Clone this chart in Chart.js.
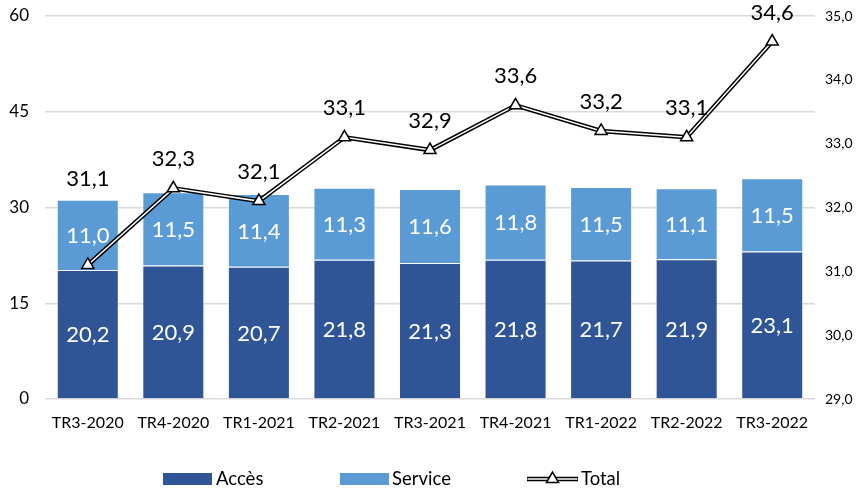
<!DOCTYPE html>
<html><head><meta charset="utf-8">
<script src="https://cdn.jsdelivr.net/npm/chart.js@4.4.1/dist/chart.umd.min.js"></script>
<style>html,body{margin:0;padding:0;background:#fff}#wrap{width:862px;height:488px}</style>
</head><body><div id="wrap"><canvas id="c" width="862" height="488"></canvas></div>
<script>
const categories = ['TR3-2020','TR4-2020','TR1-2021','TR2-2021','TR3-2021','TR4-2021','TR1-2022','TR2-2022','TR3-2022'];
const acces   = [20.2, 20.9, 20.7, 21.8, 21.3, 21.8, 21.7, 21.9, 23.1];
const service = [11.0, 11.5, 11.4, 11.3, 11.6, 11.8, 11.5, 11.1, 11.5];
const total   = [31.1, 32.3, 32.1, 33.1, 32.9, 33.6, 33.2, 33.1, 34.6];
const leftTicks  = [0, 15, 30, 45, 60];
const rightTicks = [29, 30, 31, 32, 33, 34, 35];
const seriesNames = ['Accès', 'Service', 'Total'];

const DARK = '#2F5597', LIGHT = '#5B9BD5';
const FONT = 'Lato, Carlito, "Noto Sans", sans-serif';
const fmt = v => v.toFixed(1).replace('.', ',');

const labelPlugin = {
  id: 'valueLabels',
  afterDatasetsDraw(chart) {
    const ctx = chart.ctx;
    ctx.save();
    ctx.textAlign = 'center';
    ctx.textBaseline = 'middle';
    ctx.font = '22px ' + FONT;
    [0, 1].forEach(di => {
      const meta = chart.getDatasetMeta(di);
      const data = chart.data.datasets[di].data;
      meta.data.forEach((el, i) => {
        ctx.fillStyle = '#FFFFFF';
        ctx.fillText(fmt(data[i]), el.x, (el.y + el.base) / 2 + 1);
      });
    });
    const lm = chart.getDatasetMeta(3);
    const ys = chart.scales.y;
    lm.data.forEach((el, i) => {
      const barTop = ys.getPixelForValue(acces[i] + service[i]);
      const y = Math.min(el.y - 29, barTop - 21);
      ctx.fillStyle = '#000000';
      ctx.fillText(fmt(total[i]), el.x, y);
    });
    ctx.restore();
  }
};

const legendPlugin = {
  id: 'customLegend',
  afterDraw(chart) {
    const ctx = chart.ctx;
    const cy = 479;
    ctx.save();
    ctx.font = '18.5px ' + FONT;
    ctx.textBaseline = 'middle';
    ctx.textAlign = 'left';
    ctx.fillStyle = DARK; ctx.fillRect(163, cy - 6, 49, 12);
    ctx.fillStyle = '#000'; ctx.fillText(seriesNames[0], 216, cy);
    ctx.fillStyle = LIGHT; ctx.fillRect(340, cy - 6, 49, 12);
    ctx.fillStyle = '#000'; ctx.fillText(seriesNames[1], 392, cy);
    ctx.lineCap = 'butt';
    ctx.strokeStyle = '#000'; ctx.lineWidth = 4.5;
    ctx.beginPath(); ctx.moveTo(527, cy); ctx.lineTo(578, cy); ctx.stroke();
    ctx.strokeStyle = '#fff'; ctx.lineWidth = 1.5;
    ctx.beginPath(); ctx.moveTo(527.5, cy); ctx.lineTo(577.5, cy); ctx.stroke();
    const r = 7, tx = 552.5;
    ctx.beginPath();
    ctx.moveTo(tx, cy - r);
    ctx.lineTo(tx + r * 0.866, cy + r * 0.5);
    ctx.lineTo(tx - r * 0.866, cy + r * 0.5);
    ctx.closePath();
    ctx.fillStyle = '#fff'; ctx.fill();
    ctx.strokeStyle = '#000'; ctx.lineWidth = 1.5; ctx.stroke();
    ctx.fillStyle = '#000'; ctx.fillText(seriesNames[2], 581, cy);
    ctx.restore();
  }
};

new Chart(document.getElementById('c'), {
  data: {
    labels: categories,
    datasets: [
      { type: 'bar', label: seriesNames[0], data: acces, backgroundColor: DARK, borderColor: 'rgba(255,255,255,0.35)', borderWidth: 1, yAxisID: 'y', stack: 's', order: 3, barPercentage: 0.725, categoryPercentage: 1 },
      { type: 'bar', label: seriesNames[1], data: service, backgroundColor: LIGHT, borderColor: 'rgba(255,255,255,0.35)', borderWidth: 1, yAxisID: 'y', stack: 's', order: 3, barPercentage: 0.725, categoryPercentage: 1 },
      { type: 'line', label: seriesNames[2], data: total, yAxisID: 'y1', borderColor: '#000', borderWidth: 4.5, pointRadius: 0, tension: 0, order: 2 },
      { type: 'line', label: seriesNames[2] + ' ', data: total, yAxisID: 'y1', borderColor: '#fff', borderWidth: 1.5, pointStyle: 'triangle', pointRadius: 7, pointBackgroundColor: '#fff', pointBorderColor: '#000', pointBorderWidth: 1.5, tension: 0, order: 1 }
    ]
  },
  options: {
    responsive: false,
    animation: false,
    layout: { padding: { top: 16, bottom: 60, left: 0, right: 0 } },
    plugins: { legend: { display: false }, tooltip: { enabled: false } },
    scales: {
      x: {
        stacked: true,
        grid: { display: false, drawTicks: false },
        border: { display: false },
        ticks: { color: '#000', font: { family: FONT, size: 16 }, padding: 14, maxRotation: 0, autoSkip: false },
        afterFit: s => { s.height = 29; s.paddingLeft = 0; s.paddingRight = 0; }
      },
      y: {
        stacked: true,
        position: 'left',
        min: leftTicks[0], max: leftTicks[leftTicks.length - 1],
        afterBuildTicks: s => { s.ticks = leftTicks.map(v => ({ value: v })); },
        grid: { color: '#D9D9D9', lineWidth: 1.5, drawTicks: false },
        border: { display: false },
        ticks: { color: '#000', font: { family: FONT, size: 17 }, padding: 16 },
        afterFit: s => { s.width = 45; s.paddingTop = 0; s.paddingBottom = 0; }
      },
      y1: {
        position: 'right',
        min: rightTicks[0], max: rightTicks[rightTicks.length - 1],
        afterBuildTicks: s => { s.ticks = rightTicks.map(v => ({ value: v })); },
        grid: { display: false, drawTicks: false },
        border: { display: false },
        ticks: { color: '#000', font: { family: FONT, size: 14 }, padding: 10, callback: v => fmt(v) },
        afterFit: s => { s.width = 47; s.paddingTop = 0; s.paddingBottom = 0; }
      }
    }
  },
  plugins: [labelPlugin, legendPlugin]
});
</script>
</body></html>
